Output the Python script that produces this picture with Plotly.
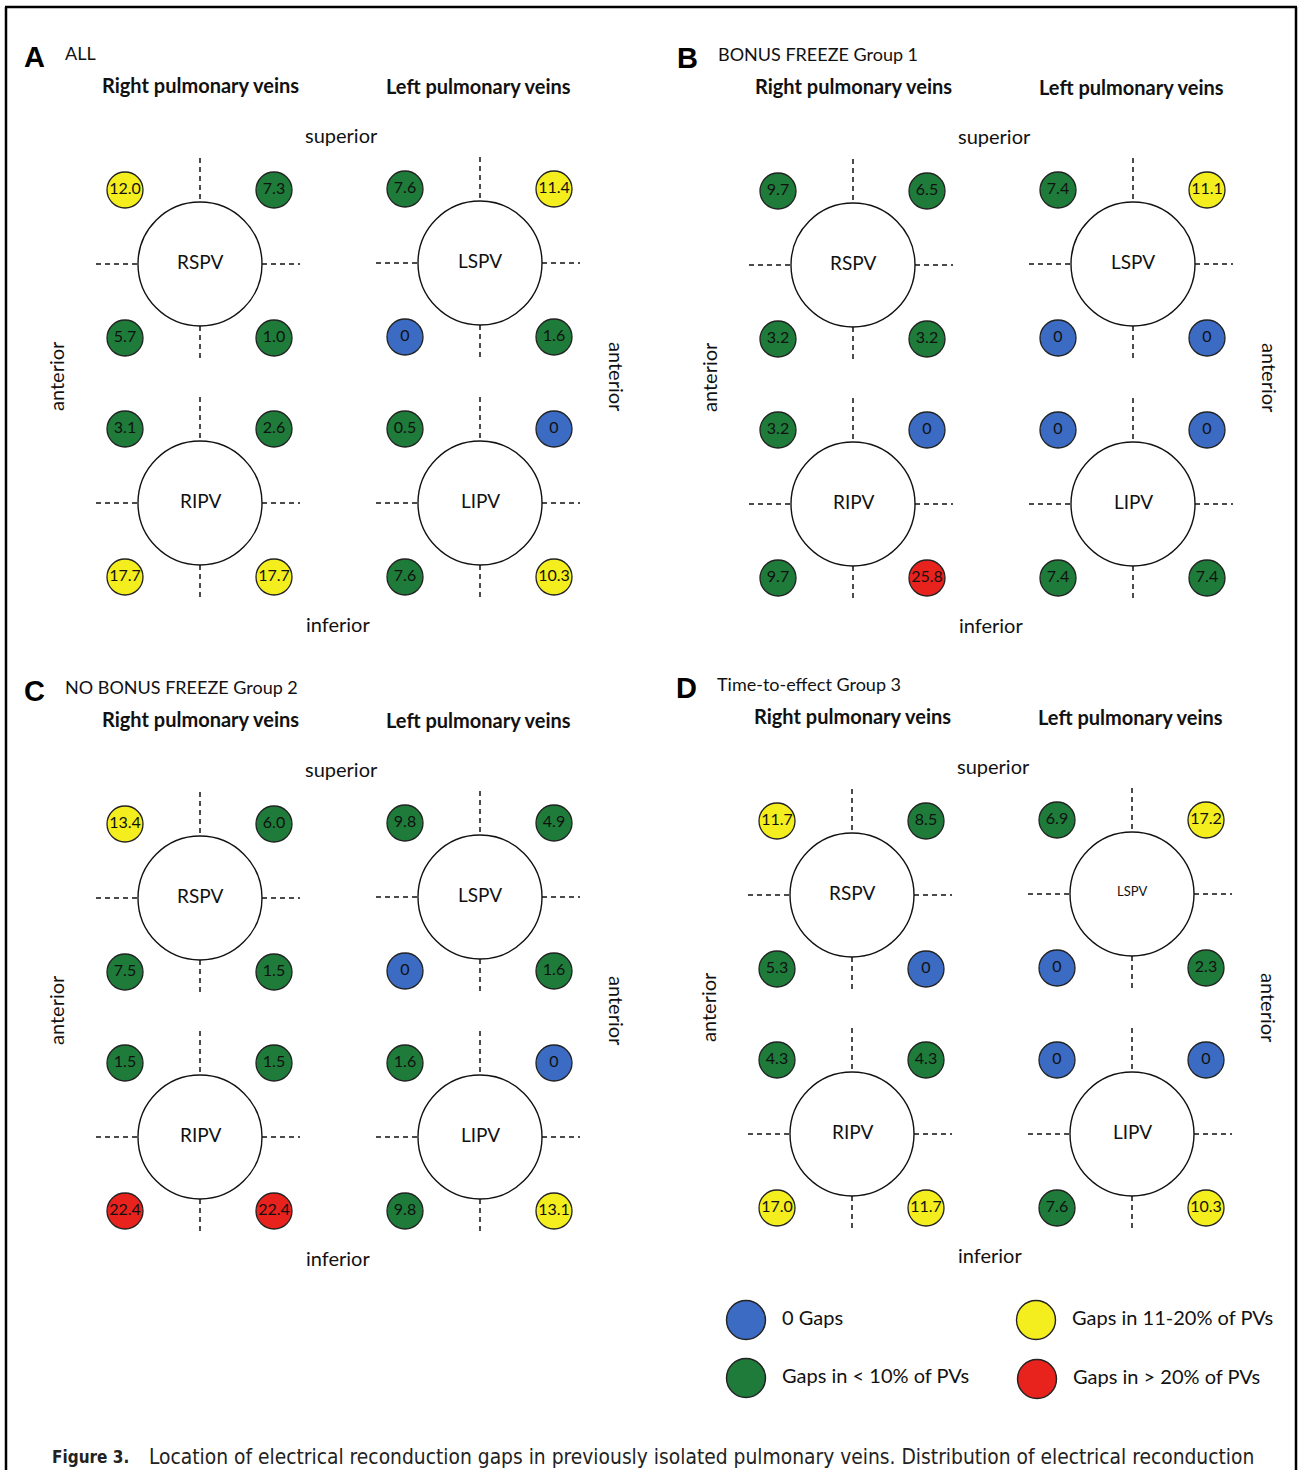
import plotly.graph_objects as go

# ---------------- data ----------------
panels = ["A", "B", "C", "D"]
panel_titles = ["ALL", "BONUS FREEZE Group 1", "NO BONUS FREEZE Group 2", "Time-to-effect Group 3"]
veins = ["RSPV", "LSPV", "RIPV", "LIPV"]
# per vein order: upper-left, upper-right, lower-left, lower-right  (% of PVs with gaps)
gaps_A = [12.0, 7.3, 5.7, 1.0, 7.6, 11.4, 0, 1.6, 3.1, 2.6, 17.7, 17.7, 0.5, 0, 7.6, 10.3]
gaps_B = [9.7, 6.5, 3.2, 3.2, 7.4, 11.1, 0, 0, 3.2, 0, 9.7, 25.8, 0, 0, 7.4, 7.4]
gaps_C = [13.4, 6.0, 7.5, 1.5, 9.8, 4.9, 0, 1.6, 1.5, 1.5, 22.4, 22.4, 1.6, 0, 9.8, 13.1]
gaps_D = [11.7, 8.5, 5.3, 0, 6.9, 17.2, 0, 2.3, 4.3, 4.3, 17.0, 11.7, 0, 0, 7.6, 10.3]
legend_labels = ["0 Gaps", "Gaps in < 10% of PVs", "Gaps in 11-20% of PVs", "Gaps in > 20% of PVs"]
caption_bold = "Figure 3."
caption_text = ("Location of electrical reconduction gaps in previously isolated pulmonary veins. "
                "Distribution of electrical reconduction")

# ---------------- styling / layout ----------------
W, H = 1298, 1470
BLUE, GREEN, YELLOW, RED = "#3b6bc3", "#1e7b3a", "#f4ee1e", "#e8221d"
legend_colors = [BLUE, GREEN, YELLOW, RED]
FONT = "Lato"
CAP_FONT = "Liberation Sans Narrow, DejaVu Sans Condensed, Liberation Sans, Arial"

panel_offsets = {"A": (0, 0), "B": (653, 1), "C": (0, 634), "D": (652, 631)}
vein_centers = {"RSPV": (200, 264), "LSPV": (480, 263), "RIPV": (200, 503), "LIPV": (480, 503)}
quad = [(-75, -74), (74, -74), (-75, 74), (74, 74)]
R = 62
vein_label_size = {("D", "LSPV"): 13}

gaps_by_panel = {"A": gaps_A, "B": gaps_B, "C": gaps_C, "D": gaps_D}


def gap_color(v):
    if v == 0:
        return BLUE
    if v < 10:
        return GREEN
    if v <= 20:
        return YELLOW
    return RED


def fmt(v):
    return "0" if v == 0 else f"{v:.1f}"


fig = go.Figure()
annotations = []
TXT = "#111"

dash_x, dash_y = [], []
big_x, big_y = [], []
small_x, small_y, small_c, small_t = [], [], [], []

for p_i, p in enumerate(panels):
    ox, oy = panel_offsets[p]
    vals = gaps_by_panel[p]
    for v_i, v in enumerate(veins):
        cx, cy = vein_centers[v]
        cx += ox
        cy += oy
        big_x.append(cx)
        big_y.append(cy)
        for seg in [((cx, cy - 106), (cx, cy - R)), ((cx, cy + R), (cx, cy + 98)),
                    ((cx - 104, cy), (cx - R, cy)), ((cx + R, cy), (cx + 100, cy))]:
            dash_x += [seg[0][0], seg[1][0], None]
            dash_y += [seg[0][1], seg[1][1], None]
        for q_i, (dx, dy) in enumerate(quad):
            val = vals[v_i * 4 + q_i]
            small_x.append(cx + dx)
            small_y.append(cy + dy)
            small_c.append(gap_color(val))
            small_t.append(fmt(val))
        annotations.append(dict(x=cx, y=cy - 3, text=v, showarrow=False,
                                font=dict(family=FONT, size=vein_label_size.get((p, v), 19), color=TXT)))
    annotations += [
        dict(x=34 + ox, y=57 + oy, text=f"<b>{p}</b>", showarrow=False,
             font=dict(family="Liberation Sans, Arial", size=29, color="#000")),
        dict(x=63 + ox, y=53 + oy, text=panel_titles[p_i], showarrow=False, xanchor="left",
             font=dict(family=FONT, size=18, color=TXT)),
        dict(x=200 + ox, y=85 + oy, text="<b>Right pulmonary veins</b>", showarrow=False,
             font=dict(family=FONT, size=20, color=TXT)),
        dict(x=478 + ox, y=86 + oy, text="<b>Left pulmonary veins</b>", showarrow=False,
             font=dict(family=FONT, size=20, color=TXT)),
        dict(x=341 + ox, y=135 + oy, text="superior", showarrow=False,
             font=dict(family=FONT, size=20, color=TXT)),
        dict(x=338 + ox, y=624 + oy, text="inferior", showarrow=False,
             font=dict(family=FONT, size=20, color=TXT)),
        dict(x=56 + ox, y=376 + oy, text="anterior", showarrow=False, textangle=-90,
             font=dict(family=FONT, size=20, color=TXT)),
        dict(x=617 + ox, y=377 + oy, text="anterior", showarrow=False, textangle=90,
             font=dict(family=FONT, size=20, color=TXT)),
    ]

fig.add_trace(go.Scatter(x=dash_x, y=dash_y, mode="lines", hoverinfo="skip",
                         line=dict(color="#111", width=1.5, dash="5px,4px")))
fig.add_trace(go.Scatter(x=big_x, y=big_y, mode="markers", hoverinfo="skip",
                         marker=dict(size=124, color="white", line=dict(color="#111", width=1.4))))
fig.add_trace(go.Scatter(x=small_x, y=small_y, mode="markers+text", text=small_t,
                         textposition="middle center", hoverinfo="skip",
                         textfont=dict(family=FONT, size=16, color="#111"),
                         marker=dict(size=36, color=small_c, line=dict(color="#222", width=1.3))))

leg_pos = [(746, 1320), (746, 1378), (1036, 1320), (1037, 1379)]
fig.add_trace(go.Scatter(x=[p[0] for p in leg_pos], y=[p[1] for p in leg_pos], mode="markers",
                         hoverinfo="skip",
                         marker=dict(size=39, color=legend_colors, line=dict(color="#222", width=1.4))))
for (lx, ly), lab in zip(leg_pos, legend_labels):
    annotations.append(dict(x=lx + 34, y=ly - 3, text=lab, showarrow=False, xanchor="left",
                            font=dict(family=FONT, size=20, color=TXT)))

annotations.append(dict(x=50, y=1457, text=f"<b>{caption_bold}</b>", showarrow=False, xanchor="left",
                        font=dict(family=CAP_FONT, size=17, color="#222")))
annotations.append(dict(x=147, y=1457, text=caption_text, showarrow=False, xanchor="left",
                        font=dict(family=CAP_FONT, size=20.8, color="#222")))

fig.update_layout(
    width=W, height=H, margin=dict(l=0, r=0, t=0, b=0),
    paper_bgcolor="white", plot_bgcolor="white", showlegend=False,
    xaxis=dict(range=[0, W], visible=False, fixedrange=True),
    yaxis=dict(range=[H, 0], visible=False, fixedrange=True),
    annotations=annotations,
    shapes=[
        dict(type="line", xref="x", yref="y", x0=6, x1=6, y0=7, y1=H + 5, line=dict(color="#000", width=2.5)),
        dict(type="line", xref="x", yref="y", x0=1296, x1=1296, y0=7, y1=H + 5, line=dict(color="#000", width=2.5)),
        dict(type="line", xref="x", yref="y", x0=5, x1=1297, y0=7, y1=7, line=dict(color="#000", width=2.5)),
    ],
)

fig.write_html("out.html", config={"displayModeBar": False},
               post_script="document.body.style.margin='0';document.documentElement.style.overflow='hidden';")
